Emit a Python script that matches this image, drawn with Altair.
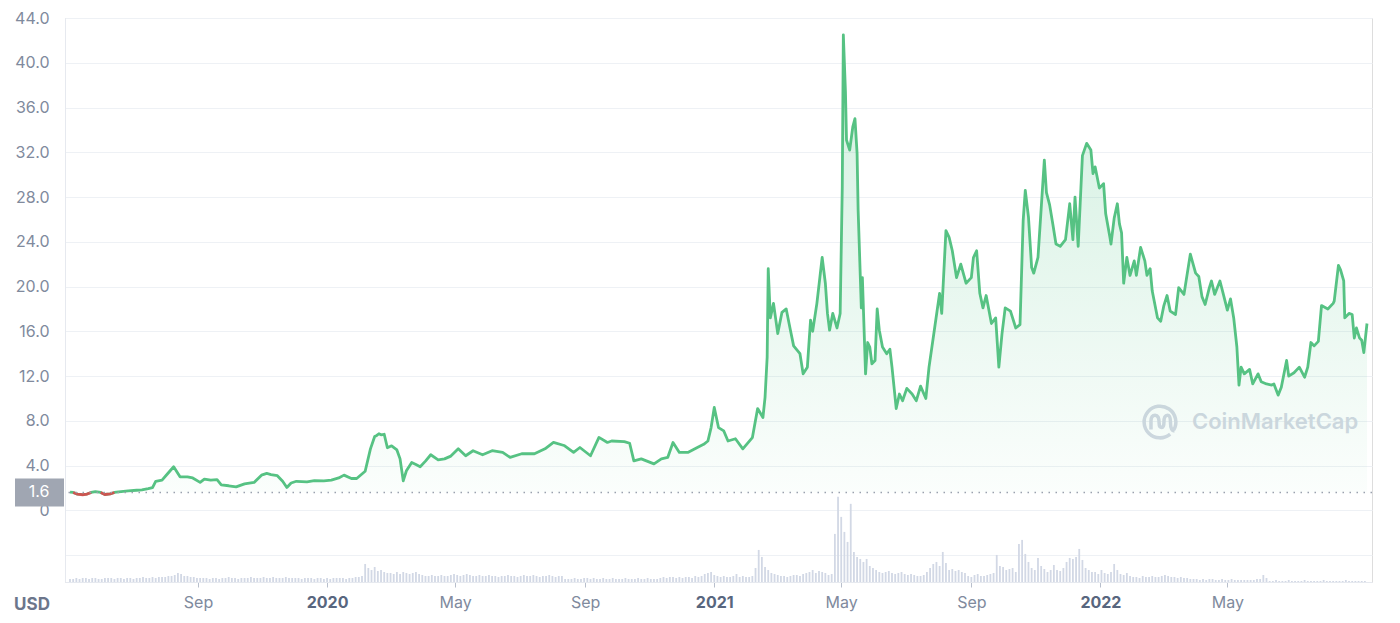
import altair as alt
import pandas as pd

BASE = 1.6

price_dates = [
    "2019-05-03", "2019-05-06", "2019-05-10", "2019-05-15", "2019-05-19", "2019-05-23", "2019-05-27",
    "2019-06-01", "2019-06-05", "2019-06-10", "2019-06-14", "2019-06-18", "2019-06-27", "2019-07-05",
    "2019-07-10", "2019-07-16", "2019-07-20", "2019-07-23", "2019-07-29", "2019-08-03", "2019-08-09",
    "2019-08-15", "2019-08-22", "2019-08-27", "2019-09-03", "2019-09-07", "2019-09-13", "2019-09-19",
    "2019-09-23", "2019-09-30", "2019-10-07", "2019-10-15", "2019-10-24", "2019-10-31", "2019-11-05",
    "2019-11-09", "2019-11-15", "2019-11-20", "2019-11-24", "2019-11-28", "2019-12-03", "2019-12-13",
    "2019-12-20", "2019-12-29", "2020-01-05", "2020-01-12", "2020-01-17", "2020-01-24", "2020-01-29",
    "2020-02-06", "2020-02-11", "2020-02-15", "2020-02-17", "2020-02-19", "2020-02-21", "2020-02-24",
    "2020-02-27", "2020-03-02", "2020-03-07", "2020-03-10", "2020-03-13", "2020-03-16", "2020-03-21",
    "2020-03-25", "2020-03-29", "2020-04-03", "2020-04-08", "2020-04-15", "2020-04-21", "2020-04-27",
    "2020-05-04", "2020-05-11", "2020-05-18", "2020-05-27", "2020-06-05", "2020-06-15", "2020-06-22",
    "2020-07-03", "2020-07-15", "2020-07-25", "2020-08-02", "2020-08-12", "2020-08-21", "2020-08-27",
    "2020-09-06", "2020-09-14", "2020-09-22", "2020-09-26", "2020-10-08", "2020-10-13", "2020-10-17",
    "2020-10-24", "2020-11-05", "2020-11-12", "2020-11-18", "2020-11-23", "2020-11-29", "2020-12-07",
    "2020-12-16", "2020-12-22", "2020-12-26", "2020-12-29", "2021-01-01", "2021-01-05", "2021-01-10",
    "2021-01-14", "2021-01-21", "2021-01-28", "2021-02-06", "2021-02-11", "2021-02-16", "2021-02-18",
    "2021-02-20", "2021-02-21", "2021-02-23", "2021-02-26", "2021-03-02", "2021-03-06", "2021-03-10",
    "2021-03-14", "2021-03-17", "2021-03-23", "2021-03-26", "2021-03-30", "2021-04-02", "2021-04-04",
    "2021-04-08", "2021-04-13", "2021-04-16", "2021-04-18", "2021-04-20", "2021-04-23", "2021-04-27",
    "2021-04-30", "2021-05-02", "2021-05-03", "2021-05-05", "2021-05-06", "2021-05-09", "2021-05-12",
    "2021-05-14", "2021-05-16", "2021-05-17", "2021-05-20", "2021-05-21", "2021-05-24", "2021-05-26",
    "2021-05-28", "2021-05-30", "2021-06-02", "2021-06-04", "2021-06-06", "2021-06-09", "2021-06-13",
    "2021-06-16", "2021-06-18", "2021-06-22", "2021-06-25", "2021-06-28", "2021-07-02", "2021-07-07",
    "2021-07-11", "2021-07-15", "2021-07-20", "2021-07-23", "2021-07-28", "2021-08-02", "2021-08-04",
    "2021-08-08", "2021-08-11", "2021-08-14", "2021-08-18", "2021-08-22", "2021-08-27", "2021-09-01",
    "2021-09-03", "2021-09-06", "2021-09-09", "2021-09-12", "2021-09-15", "2021-09-20", "2021-09-24",
    "2021-09-27", "2021-09-30", "2021-10-03", "2021-10-08", "2021-10-13", "2021-10-17", "2021-10-20",
    "2021-10-22", "2021-10-25", "2021-10-28", "2021-10-30", "2021-11-03", "2021-11-09", "2021-11-11",
    "2021-11-14", "2021-11-17", "2021-11-20", "2021-11-24", "2021-11-29", "2021-12-03", "2021-12-06",
    "2021-12-08", "2021-12-11", "2021-12-15", "2021-12-19", "2021-12-23", "2021-12-25", "2021-12-27",
    "2021-12-31", "2022-01-04", "2022-01-06", "2022-01-10", "2022-01-11", "2022-01-14", "2022-01-17",
    "2022-01-19", "2022-01-21", "2022-01-23", "2022-01-26", "2022-01-29", "2022-02-02", "2022-02-04",
    "2022-02-08", "2022-02-12", "2022-02-14", "2022-02-17", "2022-02-19", "2022-02-24", "2022-02-27",
    "2022-03-02", "2022-03-05", "2022-03-08", "2022-03-13", "2022-03-16", "2022-03-21", "2022-03-27",
    "2022-04-01", "2022-04-04", "2022-04-07", "2022-04-10", "2022-04-14", "2022-04-16", "2022-04-19",
    "2022-04-24", "2022-04-27", "2022-05-01", "2022-05-04", "2022-05-07", "2022-05-10", "2022-05-12",
    "2022-05-14", "2022-05-17", "2022-05-22", "2022-05-25", "2022-05-30", "2022-06-02", "2022-06-07",
    "2022-06-12", "2022-06-14", "2022-06-18", "2022-06-21", "2022-06-26", "2022-06-28", "2022-07-03",
    "2022-07-08", "2022-07-13", "2022-07-16", "2022-07-19", "2022-07-22", "2022-07-26", "2022-07-29",
    "2022-08-04", "2022-08-09", "2022-08-10", "2022-08-14", "2022-08-16", "2022-08-19", "2022-08-20",
    "2022-08-24", "2022-08-27", "2022-08-29", "2022-08-31", "2022-09-03", "2022-09-05", "2022-09-07",
    "2022-09-10",
]

price_vals = [
    1.64, 1.60, 1.45, 1.40, 1.46, 1.60, 1.68,
    1.60, 1.42, 1.47, 1.60, 1.66, 1.75, 1.80,
    1.83, 1.95, 2.04, 2.60, 2.70, 3.25, 3.90,
    3.00, 3.00, 2.90, 2.50, 2.80, 2.70, 2.75,
    2.28, 2.20, 2.10, 2.37, 2.50, 3.15, 3.30,
    3.20, 3.10, 2.60, 2.05, 2.45, 2.60, 2.55,
    2.65, 2.64, 2.70, 2.90, 3.15, 2.85, 2.85,
    3.50, 5.50, 6.60, 6.70, 6.85, 6.75, 6.80,
    5.60, 5.77, 5.40, 4.60, 2.64, 3.54, 4.28,
    4.10, 3.90, 4.40, 4.97, 4.52, 4.60, 4.85,
    5.50, 4.88, 5.33, 4.97, 5.33, 5.18, 4.73,
    5.06, 5.06, 5.50, 6.07, 5.80, 5.18, 5.62,
    4.88, 6.52, 6.07, 6.20, 6.15, 6.00, 4.43,
    4.60, 4.16, 4.60, 4.73, 6.07, 5.18, 5.18,
    5.62, 5.90, 6.20, 7.40, 9.20, 7.40, 7.10,
    6.20, 6.40, 5.50, 6.50, 9.10, 8.30, 10.10,
    13.70, 21.60, 17.20, 18.50, 15.80, 17.70, 18.00,
    16.10, 14.70, 14.00, 12.20, 12.80, 17.00, 16.00,
    18.50, 22.60, 20.30, 17.60, 16.10, 17.60, 16.30,
    17.60, 28.90, 42.50, 37.40, 33.10, 32.20, 34.30,
    35.00, 31.90, 26.80, 18.10, 20.80, 12.20, 15.00,
    14.60, 13.10, 13.40, 18.00, 16.10, 14.60, 14.00,
    14.40, 12.80, 9.10, 10.40, 9.80, 10.90, 10.40,
    9.80, 11.10, 10.00, 12.80, 16.10, 19.40, 17.60,
    25.00, 24.40, 23.20, 20.80, 22.00, 20.30, 20.80,
    22.60, 23.20, 19.40, 18.10, 19.20, 16.70, 17.20,
    12.80, 15.80, 18.10, 17.80, 16.30, 16.60, 25.90,
    28.60, 26.20, 21.70, 21.20, 22.60, 31.30, 28.40,
    27.30, 25.60, 23.80, 23.60, 24.20, 27.40, 24.20,
    28.00, 23.60, 31.70, 32.80, 32.20, 30.10, 30.70,
    28.80, 29.20, 26.50, 24.40, 23.80, 26.10, 27.40,
    25.60, 24.80, 20.30, 22.60, 21.00, 22.30, 21.00,
    23.50, 22.30, 21.00, 21.60, 19.60, 17.20, 16.90,
    18.30, 19.20, 17.80, 17.50, 19.90, 19.30, 22.90,
    21.20, 20.90, 19.10, 18.40, 19.90, 20.50, 19.30,
    20.50, 19.40, 17.90, 18.90, 17.20, 14.60, 11.20,
    12.80, 12.20, 12.60, 11.30, 12.20, 11.50, 11.30,
    11.20, 11.30, 10.30, 11.00, 13.40, 12.00, 12.30,
    12.80, 11.90, 12.80, 15.00, 14.70, 15.10, 18.30,
    18.00, 18.50, 18.70, 21.90, 21.50, 20.50, 17.20,
    17.60, 17.50, 15.40, 16.30, 15.40, 15.20, 14.10,
    16.70,
]

# Trading volume (relative units), one value every 3 days from VOL_START
VOL_START = "2019-05-03"
VOL_STEP_DAYS = 3
vol_values = [
    3, 3, 4, 3, 4, 4, 3, 4, 4, 3, 3, 4, 4, 4, 3, 4, 4, 3, 4, 4, 3, 4, 4, 5, 4, 4, 5, 4, 5, 5,
    5, 6, 6, 7, 9, 8, 6, 6, 5, 5, 4, 4,
    4, 4, 3, 4, 4, 3, 4, 4, 5, 4, 4, 3, 4, 4, 4, 5, 4, 4, 4, 5, 4, 4, 5, 4, 4, 4, 5, 4, 4, 4,
    4, 3, 4, 4, 4, 3, 4, 4, 3, 4, 3, 4, 4, 4, 4, 3, 4, 4, 5, 5,
    6, 18, 14, 12, 15, 11, 12, 10, 9, 9, 8, 10, 8,
    10, 9, 8, 9, 10, 8, 7, 6, 6, 7, 6, 6, 7, 6, 6, 7, 8, 7, 6, 7, 8, 7, 6, 6, 7, 6, 6, 7, 6, 6,
    5, 6, 6, 7, 6, 6, 5,
    6, 7, 6, 6, 7, 6, 5, 6, 6, 7, 6, 5, 6, 6,
    3, 3, 3, 4, 3, 3, 4, 4, 3, 4, 3, 3, 4, 3, 3, 4, 3, 3, 3, 4, 3, 3, 3, 4, 3, 3, 4, 3, 3, 3,
    4, 5, 4, 5, 5, 4, 5, 4, 5, 5, 4, 6, 5, 6, 8, 9,
    10, 7, 6, 5, 6, 5, 5, 6, 8, 5, 6, 5, 5, 6,
    14, 32, 25, 15, 12, 9, 8,
    7, 6, 6, 5, 6, 7, 7, 6, 8, 9, 10, 12, 9, 11, 10, 9, 7, 8,
    48, 85, 65, 50, 40, 78, 30, 25, 23, 20,
    23, 16, 14, 12, 10, 9, 10, 11, 9, 8, 9, 10, 8, 7, 8, 7, 6, 6, 7,
    10, 14, 18, 20, 16, 30, 19, 12, 13, 11, 12, 10, 9,
    6, 5, 7, 8, 6, 6, 7, 8, 9,
    27, 16, 15, 12, 13, 14, 10,
    38, 42, 28, 20,
    14, 12, 24, 16, 13, 10, 12, 17, 12, 11, 14,
    20, 24, 23, 25, 33, 22, 14, 12, 10,
    10, 8, 12, 9, 8, 10, 18, 12, 8, 7, 9,
    6, 5, 5, 4, 6, 5, 5, 6, 5, 5, 6, 7, 6, 5, 5, 4, 5, 4, 4, 3,
    3, 3, 2, 3, 2, 3, 3, 2, 2, 3, 2, 2, 3, 2, 2, 2, 2, 2, 2, 2,
    3, 3, 7, 4,
    1, 1, 2, 1, 1, 1, 2, 1, 1, 1, 1, 2, 1, 1, 1, 1, 1, 2, 1, 1, 1, 1, 1, 1, 2, 1, 1, 1, 1, 1, 1,
]

Y_TICKS = [-4, 0, 4, 8, 12, 16, 20, 24, 28, 32, 36, 40, 44]
Y_DOMAIN = [-6.4, 44]
X_TICKS = [(2019, 9), (2020, 1), (2020, 5), (2020, 9), (2021, 1), (2021, 5), (2021, 9), (2022, 1), (2022, 5)]
X_DOMAIN = [(2019, 5, 3), (2022, 9, 10)]
VOL_SHARE = 0.151  # tallest volume bar as share of the plot height

GREEN = "#56c283"
RED = "#ea3943"
GRID = "#eef1f5"
LABEL = "#808a9d"
WM = "#d3d8e3"
FONT = "Inter"

# ---------------- data frames ----------------
df = pd.DataFrame({"date": price_dates, "price": price_vals})
below = df["price"] <= BASE
df_red = df.assign(seg=(below != below.shift()).cumsum())[below]

vol_df = pd.DataFrame({
    "date": pd.date_range(VOL_START, periods=len(vol_values), freq=f"{VOL_STEP_DAYS}D").strftime("%Y-%m-%d"),
    "vol": vol_values,
})
base_df = pd.DataFrame({"base": [BASE], "label": [f"{BASE}"]})

# ---------------- scales / axes ----------------
x_axis = alt.Axis(
    values=[alt.DateTime(year=y, month=m, date=1, utc=True) for y, m in X_TICKS],
    labelExpr="utcmonth(datum.value) == 0 ? utcFormat(datum.value, '%Y') : utcFormat(datum.value, '%b')",
    labelFontWeight={"condition": {"test": "utcmonth(datum.value) == 0", "value": "bold"}, "value": "normal"},
    labelColor={"condition": {"test": "utcmonth(datum.value) == 0", "value": "#58667e"}, "value": LABEL},
    labelFont=FONT, labelFontSize=16, labelPadding=7, labelOverlap=False,
    tickSize=5, tickColor="#b8bfcc", domainColor="#e6e9ef", grid=False, title=None,
)
x_scale = alt.Scale(type="utc", domain=[alt.DateTime(year=a, month=b, date=c, utc=True) for a, b, c in X_DOMAIN])
x_enc = alt.X("date:T", scale=x_scale, axis=x_axis)

y_scale = alt.Scale(domain=Y_DOMAIN, nice=False, zero=False)
y_axis = alt.Axis(
    values=Y_TICKS, orient="left",
    labelExpr="datum.value < 0 ? '' : (datum.value == 0 ? '0' : format(datum.value, '.1f'))",
    labelFont=FONT, labelFontSize=16, labelColor=LABEL, labelPadding=16, labelOverlap=False,
    tickSize=0, grid=True, gridColor=GRID, gridWidth=1, domainColor="#e6e9ef", title=None,
)

# ---------------- layers ----------------
vol = alt.Chart(vol_df).mark_bar(width=1.8, color="#d2d8e5").encode(
    x=x_enc,
    y=alt.Y("vol:Q", scale=alt.Scale(domain=[0, max(vol_values) / VOL_SHARE], nice=False), axis=None),
)

LOGO = ("M0.566,0.674 A0.88,0.88 0 1 1 0.762,0.44 "
        "M-0.5,0.42 L-0.5,-0.05 Q-0.5,-0.38 -0.27,-0.38 Q-0.05,-0.38 -0.05,0.05 "
        "Q-0.05,0.3 0.1,0.3 Q0.22,0.3 0.22,0.0 Q0.22,-0.38 0.42,-0.38 "
        "Q0.58,-0.38 0.58,0.0 Q0.58,0.5 0.8,0.5")

wm_logo = alt.Chart(base_df).mark_point(
    shape=LOGO, size=1300, filled=False, strokeWidth=3.5, color=WM, opacity=1
).encode(x=alt.value(1095), y=alt.value(404))

wm_text = alt.Chart(base_df).mark_text(
    text="CoinMarketCap", font=FONT, fontSize=22, fontWeight=600, color=WM, align="left", baseline="middle"
).encode(x=alt.value(1127), y=alt.value(404))

area = alt.Chart(df).mark_area(
    color=alt.Gradient(
        gradient="linear",
        stops=[alt.GradientStop(color="rgba(60,190,120,0.24)", offset=0),
               alt.GradientStop(color="rgba(60,190,120,0.02)", offset=1)],
        x1=0, x2=0, y1=0, y2=1,
    )
).encode(x=x_enc, y=alt.Y("price:Q", scale=y_scale, axis=y_axis), y2=alt.datum(BASE))

line = alt.Chart(df).mark_line(color=GREEN, strokeWidth=2.8, strokeJoin="round").encode(
    x=x_enc, y=alt.Y("price:Q", scale=y_scale, axis=y_axis)
)

red = alt.Chart(df_red).mark_line(color=RED, strokeWidth=2.8, opacity=0.8).encode(
    x=x_enc, y=alt.Y("price:Q", scale=y_scale, axis=y_axis), detail="seg:N"
)

rule = alt.Chart(base_df).mark_rule(color="#9aa1ae", strokeDash=[1.5, 5.5], strokeWidth=1.3).encode(
    y=alt.Y("base:Q", scale=y_scale, axis=y_axis)
)

box = alt.Chart(base_df).mark_rect(color="#a0a6b2", yOffset=-14, y2Offset=14).encode(
    x=alt.value(-50), x2=alt.value(-1),
    y=alt.Y("base:Q", scale=y_scale, axis=y_axis), y2=alt.Y2("base:Q"),
)

box_text = alt.Chart(base_df).mark_text(
    color="white", font=FONT, fontSize=16, align="center", baseline="middle"
).encode(x=alt.value(-26), y=alt.Y("base:Q", scale=y_scale, axis=y_axis), text="label:N")

usd = alt.Chart(base_df).mark_text(
    text="USD", font=FONT, fontSize=17, fontWeight="bold", color="#6c768b", align="center", baseline="middle"
).encode(x=alt.value(-33), y=alt.value(587))

price_layer = alt.layer(wm_logo, wm_text, area, line, red, rule, box, box_text, usd)

chart = alt.layer(vol, price_layer).resolve_scale(y="independent").properties(
    width=1307, height=564,
    autosize=alt.AutoSizeParams(type="none"),
    padding={"left": 57, "top": 10, "right": 20, "bottom": 45},
).configure_view(strokeWidth=0).configure(font=FONT, background="white")

chart.save("out.html", embed_options={"renderer": "svg", "actions": False})
